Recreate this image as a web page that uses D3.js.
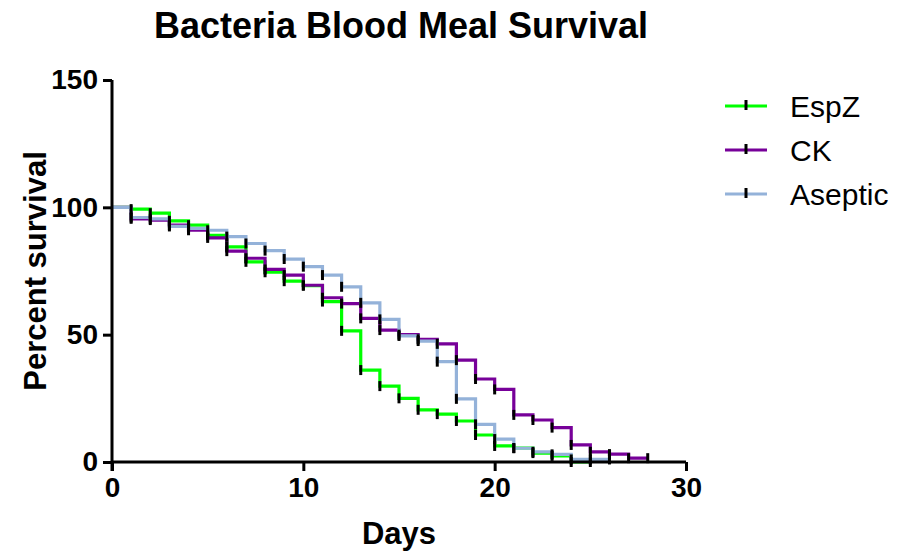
<!DOCTYPE html>
<html><head><meta charset="utf-8">
<script src="https://cdn.jsdelivr.net/npm/d3@7"></script>
<style>body{margin:0;background:#fff}svg{display:block}</style>
</head><body>
<svg id="c" width="898" height="558"></svg>
<script>
const title = "Bacteria Blood Meal Survival";
const xLabel = "Days";
const yLabel = "Percent survival";
const xTicks = [0, 10, 20, 30];
const yTicks = [0, 50, 100, 150];
const seriesNames = ["EspZ", "CK", "Aseptic"];
const seriesColors = ["#00ff00", "#770099", "#94b2d9"];

const espzDays = [0,1,2,3,4,5,6,7,8,9,10,11,12,13,14,15,16,17,18,19,20,21,22,23,24,25];
const espzVals = [100,99.3,97.7,94.7,93,89,84.5,78.6,74.5,71,69.2,63,51.5,36.1,29.8,25,20.5,18.8,16.1,10.6,6.3,5.5,3.5,2.4,0,0];
const ckDays = [0,1,2,3,4,5,6,7,8,9,10,11,12,13,14,15,16,17,18,19,20,21,22,23,24,25,26,27,28];
const ckVals = [100,95.5,95,93,91,88,82.8,80,75.6,73.4,69.4,64.5,62.2,56.4,51.8,50,48.2,46.4,40,32.6,28.5,18.5,16.5,13.5,6.7,4,3.1,1.5,1.5];
const asepticDays = [0,1,2,3,4,5,6,7,8,9,10,11,12,13,14,15,16,17,18,19,20,21,22,23,24,25,26];
const asepticVals = [100,96,95.5,92.5,91.7,91,88.5,85.8,83,79.7,76.7,73.4,68.8,62.5,56,49.5,47.5,39.4,24.8,14.8,9,5.4,4,3,1,1,1];

const series = [
  {name: seriesNames[0], color: seriesColors[0], days: espzDays, vals: espzVals},
  {name: seriesNames[1], color: seriesColors[1], days: ckDays, vals: ckVals},
  {name: seriesNames[2], color: seriesColors[2], days: asepticDays, vals: asepticVals}
];

const svg = d3.select("#c");
const x = d3.scaleLinear().domain([0, 30]).range([112, 686]);
const y = d3.scaleLinear().domain([0, 150]).range([462, 80]);

svg.append("text").attr("x", 401).attr("y", 38).attr("text-anchor", "middle")
  .attr("font-family", "Liberation Sans, Arial, sans-serif").attr("font-weight", "bold")
  .attr("font-size", 36).text(title);

const line = d3.line().x(d => x(d[0])).y(d => y(d[1])).curve(d3.curveStepAfter);
series.forEach(s => {
  const pts = s.days.map((d, i) => [d, s.vals[i]]);
  svg.append("path").attr("d", line(pts)).attr("fill", "none")
    .attr("stroke", s.color).attr("stroke-width", 3.2);
});
series.forEach(s => {
  s.days.forEach((d, i) => {
    if (i === 0) return;
    svg.append("line").attr("x1", x(d)).attr("x2", x(d))
      .attr("y1", y(s.vals[i]) - 5).attr("y2", y(s.vals[i]) + 5)
      .attr("stroke", "#000").attr("stroke-width", 3);
  });
});

// axes
const xAxis = d3.axisBottom(x).tickValues(xTicks).tickSize(9).tickPadding(6).tickFormat(d3.format("d"));
const gx = svg.append("g").attr("transform", "translate(0,462)").call(xAxis);
gx.select(".domain").attr("stroke", "#000").attr("stroke-width", 3).attr("d", "M112,0H686");
gx.selectAll(".tick line").attr("stroke", "#000").attr("stroke-width", 3);
gx.selectAll("text").attr("font-family", "Liberation Sans, Arial, sans-serif")
  .attr("font-weight", "bold").attr("font-size", 28).attr("fill", "#000");

const yAxis = d3.axisLeft(y).tickValues(yTicks).tickSize(9).tickPadding(5).tickFormat(d3.format("d"));
const gy = svg.append("g").attr("transform", "translate(112,0)").call(yAxis);
gy.select(".domain").attr("stroke", "#000").attr("stroke-width", 3).attr("d", "M0,80V471");
gy.selectAll(".tick line").attr("stroke", "#000").attr("stroke-width", 3);
gy.selectAll("text").attr("font-family", "Liberation Sans, Arial, sans-serif")
  .attr("font-weight", "bold").attr("font-size", 28).attr("fill", "#000");

svg.append("text").attr("x", 399).attr("y", 544).attr("text-anchor", "middle")
  .attr("font-family", "Liberation Sans, Arial, sans-serif").attr("font-weight", "bold")
  .attr("font-size", 31).text(xLabel);
svg.append("text").attr("transform", "translate(46,271) rotate(-90)").attr("text-anchor", "middle")
  .attr("font-family", "Liberation Sans, Arial, sans-serif").attr("font-weight", "bold")
  .attr("font-size", 31).text(yLabel);

// legend
const legY = [106, 150, 194];
series.forEach((s, i) => {
  const g = svg.append("g");
  g.append("line").attr("x1", 725).attr("x2", 767).attr("y1", legY[i]).attr("y2", legY[i])
    .attr("stroke", s.color).attr("stroke-width", 3.2);
  g.append("line").attr("x1", 746).attr("x2", 746).attr("y1", legY[i] - 6).attr("y2", legY[i] + 4)
    .attr("stroke", "#000").attr("stroke-width", 3);
  g.append("text").attr("x", 790).attr("y", legY[i] + 11)
    .attr("font-family", "Liberation Sans, Arial, sans-serif").attr("font-size", 30).text(s.name);
});
</script>
</body></html>
